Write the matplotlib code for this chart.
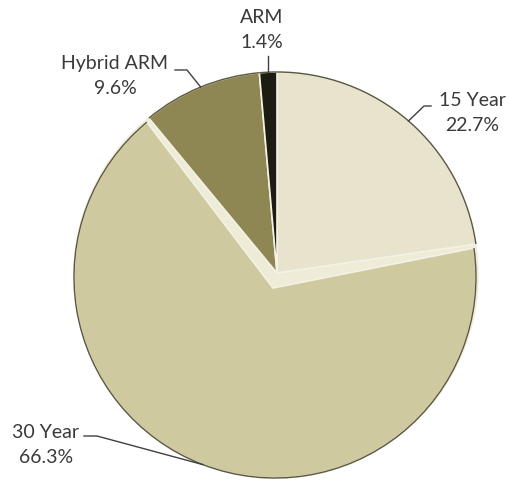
import numpy as np
import matplotlib
matplotlib.use('Agg')
import matplotlib.pyplot as plt
from matplotlib.patches import Polygon, Arc, Circle

# Loan type shares (%)
categories = ['15 Year', '30 Year', 'Hybrid ARM', 'ARM']
shares = [22.7, 66.3, 9.6, 1.4]
colors = ['#E8E3CC', '#CFC99F', '#8F8753', '#1C1C12']

W, H = 510, 484
fig = plt.figure(figsize=(W / 100, H / 100), dpi=100)
ax = fig.add_axes([0, 0, 1, 1])

cx, cy, r = 277, H - 273, 201

# light backing disc so the bevel gaps look cream rather than white
ax.add_patch(Circle((cx - 1, cy - 2), r + 1, color='#EEEBD7', zorder=0))

wedges, _ = ax.pie(shares, colors=colors, startangle=90,
                   counterclock=False, center=(cx, cy), radius=r,
                   frame=True,
                   wedgeprops=dict(edgecolor='#F4F2E6', linewidth=1.2))
ax.set_xlim(0, W)
ax.set_ylim(0, H)
ax.set_aspect('equal')
ax.axis('off')

# the 30 Year slice is pulled out a little: apex lower, arc slightly shifted
arc_centers = [(cx, cy)] * 4
big = wedges[1]
arc_c = (cx - 2, cy - 4)
apex = (cx - 4, cy - 15)
th = np.deg2rad(np.linspace(big.theta1, big.theta2, 300))
pts = np.column_stack([arc_c[0] + r * np.cos(th), arc_c[1] + r * np.sin(th)])
poly = Polygon(np.vstack([apex, pts]), closed=True, facecolor=colors[1],
               edgecolor='#F4F2E6', lw=1.2, zorder=big.get_zorder())
big.remove()
ax.add_patch(poly)
arc_centers[1] = arc_c

# dark rim on the outside
for w, c in zip(wedges, arc_centers):
    ax.add_patch(Arc(c, 2 * r, 2 * r, theta1=w.theta1, theta2=w.theta2,
                     color='#5a5640', lw=1.0, zorder=3))

# text centres and leader elbow points (pixel coords from top)
label_pos = {'15 Year': (472, 113), '30 Year': (46, 445),
             'Hybrid ARM': (115, 76), 'ARM': (262, 30)}
elbows = {'15 Year': [(424, 106), (431, 106)],
          '30 Year': [(97, 436), (84, 436)],
          'Hybrid ARM': [(187, 70), (175, 70)],
          'ARM': [(268, 56)]}

for w, c, name, val in zip(wedges, arc_centers, categories, shares):
    mid = np.deg2rad((w.theta1 + w.theta2) / 2)
    ex = c[0] + r * np.cos(mid)
    ey = c[1] + r * np.sin(mid)
    pts = [(ex, ey)] + [(x, H - y) for x, y in elbows[name]]
    if name == 'ARM':
        pts = [(pts[1][0], ey), pts[1]]
    xs, ys = zip(*pts)
    ax.plot(xs, ys, color='#404040', lw=1.0, zorder=4)
    tx, ty = label_pos[name]
    ax.text(tx, H - ty, f'{name}\n{val}%', ha='center', va='center',
            fontsize=14, family='Lato', color='#3a3a3a', linespacing=1.6)

fig.savefig('out.png', dpi=100)
